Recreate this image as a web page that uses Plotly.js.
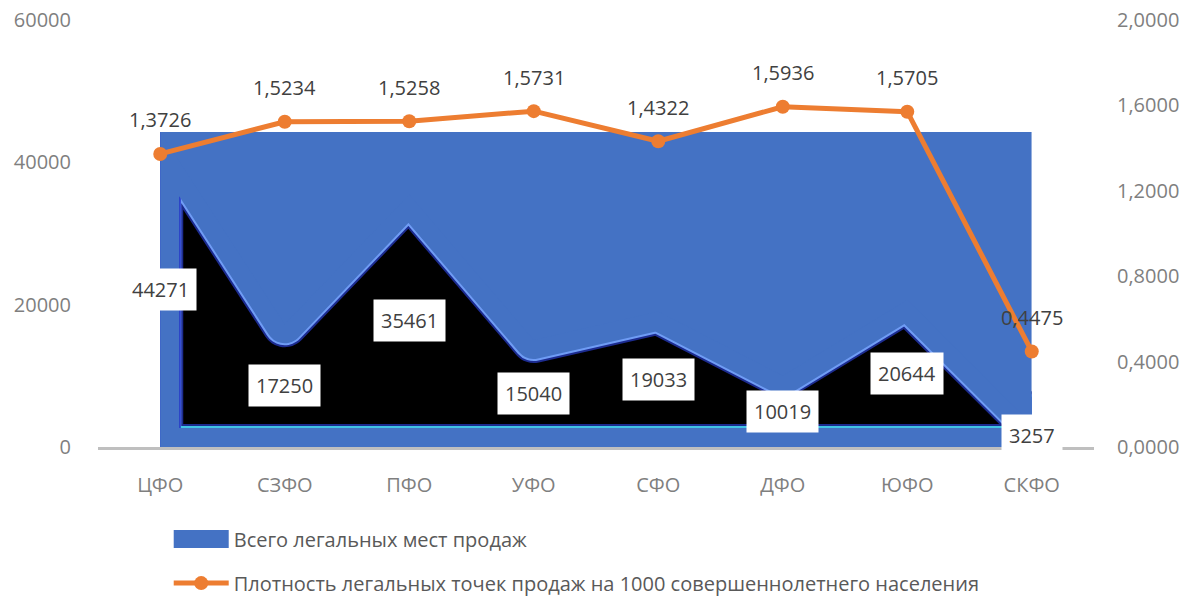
<!DOCTYPE html>
<html>
<head>
<meta charset="utf-8">
<script src="https://cdn.plot.ly/plotly-3.0.1.min.js"></script>
<style>
html,body{margin:0;padding:0;background:#fff;}
#chart{width:1195px;height:601px;}
#chart .scatterlayer .js-line{stroke-linejoin:round !important;}
#chart .legend .legendfill path{transform:translate(0px,-3px) scale(1,3);}
</style>
</head>
<body>
<div id="chart"></div>
<script>
// ---- data ----
const categories = ['ЦФО', 'СЗФО', 'ПФО', 'УФО', 'СФО', 'ДФО', 'ЮФО', 'СКФО'];
const salesPoints = [44271, 17250, 35461, 15040, 19033, 10019, 20644, 3257];
const density = [1.3726, 1.5234, 1.5258, 1.5731, 1.4322, 1.5936, 1.5705, 0.4475];
const leftTicks = [0, 20000, 40000, 60000];
const rightTicks = [0, 0.4, 0.8, 1.2, 1.6, 2.0];
const seriesNames = ['Всего легальных мест продаж', 'Плотность легальных точек продаж на 1000 совершеннолетнего населения'];

// ---- styles ----
const BLUE = '#4472C4', ORANGE = '#ED7D31';
const FONT = 'Open Sans, Noto Sans, sans-serif';
const LEFT_MAX = 60000, RIGHT_MAX = 2;
const n = categories.length;
const maxVal = Math.max(...salesPoints);
const fmt = v => v.toFixed(4).replace('.', ',');

// closed polygon of the area series (down to zero)
const polyX = categories.concat([categories[n - 1], categories[0], categories[0]]);
const polyY = salesPoints.concat([0, 0, salesPoints[0]]);

const skip = {hoverinfo: 'skip', showlegend: false, xaxis: 'x', yaxis: 'y', mode: 'lines'};
const traces = [
  // black body of the area, with a dark soft edge
  Object.assign({x: polyX, y: polyY, fill: 'toself', fillcolor: '#000000',
   line: {color: '#1c2b8f', width: 46}}, skip),
  // light fringe
  Object.assign({x: polyX, y: polyY, line: {color: '#6f9cf5', width: 42}}, skip),
  // cyan bottom edge and dark-blue left edge of the glow
  Object.assign({x: [categories[0], categories[n - 1]], y: [0, 0], line: {color: '#41c4e4', width: 42}}, skip),
  Object.assign({x: [categories[0], categories[0]], y: [0, salesPoints[0]], line: {color: '#2436c8', width: 41}}, skip),
  // blue inner glow
  Object.assign({x: polyX, y: polyY, line: {color: BLUE, width: 38}}, skip),
  // outside region (between series and the top)
  Object.assign({x: categories, y: salesPoints, line: {width: 0}}, skip),
  {x: categories, y: salesPoints.map(() => maxVal), xaxis: 'x', yaxis: 'y', mode: 'lines',
   fill: 'tonexty', fillcolor: BLUE, line: {width: 0, color: BLUE},
   name: seriesNames[0], legendgroup: 'a', hoverinfo: 'skip'},
  // dummy to host main visible axes
  {x: categories, y: salesPoints.map(() => null), xaxis: 'x2', yaxis: 'y2', mode: 'lines',
   showlegend: false, hoverinfo: 'skip'},
  // density line
  {x: categories, y: density, xaxis: 'x2', yaxis: 'y3', mode: 'lines+markers',
   line: {color: ORANGE, width: 5}, marker: {color: ORANGE, size: 14},
   name: seriesNames[1], legendgroup: 'b', cliponaxis: false}
];

const annotations = [];
salesPoints.forEach((v, i) => annotations.push({
  xref: 'x2', yref: 'y2', x: categories[i], y: v / 2, text: String(v), showarrow: false,
  bgcolor: '#ffffff', borderpad: 7, font: {family: FONT, size: 20, color: '#404040'}
}));
density.forEach((v, i) => annotations.push({
  xref: 'x2', yref: 'y3', x: categories[i], y: v, yshift: 34, text: fmt(v), showarrow: false,
  font: {family: FONT, size: 20, color: '#404040'}
}));

const layout = {
  width: 1195, height: 601,
  margin: {l: 98, r: 101, t: 20, b: 154, autoexpand: false},
  paper_bgcolor: '#ffffff', plot_bgcolor: 'rgba(0,0,0,0)',
  separators: ', ',
  font: {family: FONT, size: 20, color: '#7f7f7f'},
  showlegend: true,
  legend: {orientation: 'v', x: 0.071, xanchor: 'left', y: -0.17, yanchor: 'top',
           font: {family: FONT, size: 20, color: '#595959'}, itemwidth: 55,
           tracegroupgap: 15, bgcolor: 'rgba(0,0,0,0)'},
  xaxis: {domain: [0.5 / n, 1 - 0.5 / n], range: [0, n - 1], type: 'category', visible: false,
          anchor: 'y', fixedrange: true},
  yaxis: {domain: [0, maxVal / LEFT_MAX], range: [0, maxVal], visible: false, anchor: 'x', fixedrange: true},
  xaxis2: {domain: [0, 1], range: [-0.5, n - 0.5], type: 'category', anchor: 'y2',
           showline: true, linecolor: '#BFBFBF', linewidth: 3, showgrid: false, zeroline: false,
           ticks: '', ticklabelstandoff: 18, tickfont: {family: FONT, size: 20, color: '#7f7f7f'}},
  yaxis2: {domain: [0, 1], range: [0, LEFT_MAX], anchor: 'x2', side: 'left', showgrid: false,
           zeroline: false, showline: false, tickmode: 'array', tickvals: leftTicks,
           ticktext: leftTicks.map(String), ticklabelstandoff: 26,
           tickfont: {family: FONT, size: 20, color: '#7f7f7f'}},
  yaxis3: {overlaying: 'y2', side: 'right', anchor: 'x2', range: [0, RIGHT_MAX], showgrid: false,
           zeroline: false, showline: false, tickmode: 'array', tickvals: rightTicks,
           ticktext: rightTicks.map(fmt), ticklabelstandoff: 22,
           tickfont: {family: FONT, size: 20, color: '#7f7f7f'}},
  annotations: annotations
};

Plotly.newPlot('chart', traces, layout, {staticPlot: true, displayModeBar: false});
</script>
</body>
</html>
